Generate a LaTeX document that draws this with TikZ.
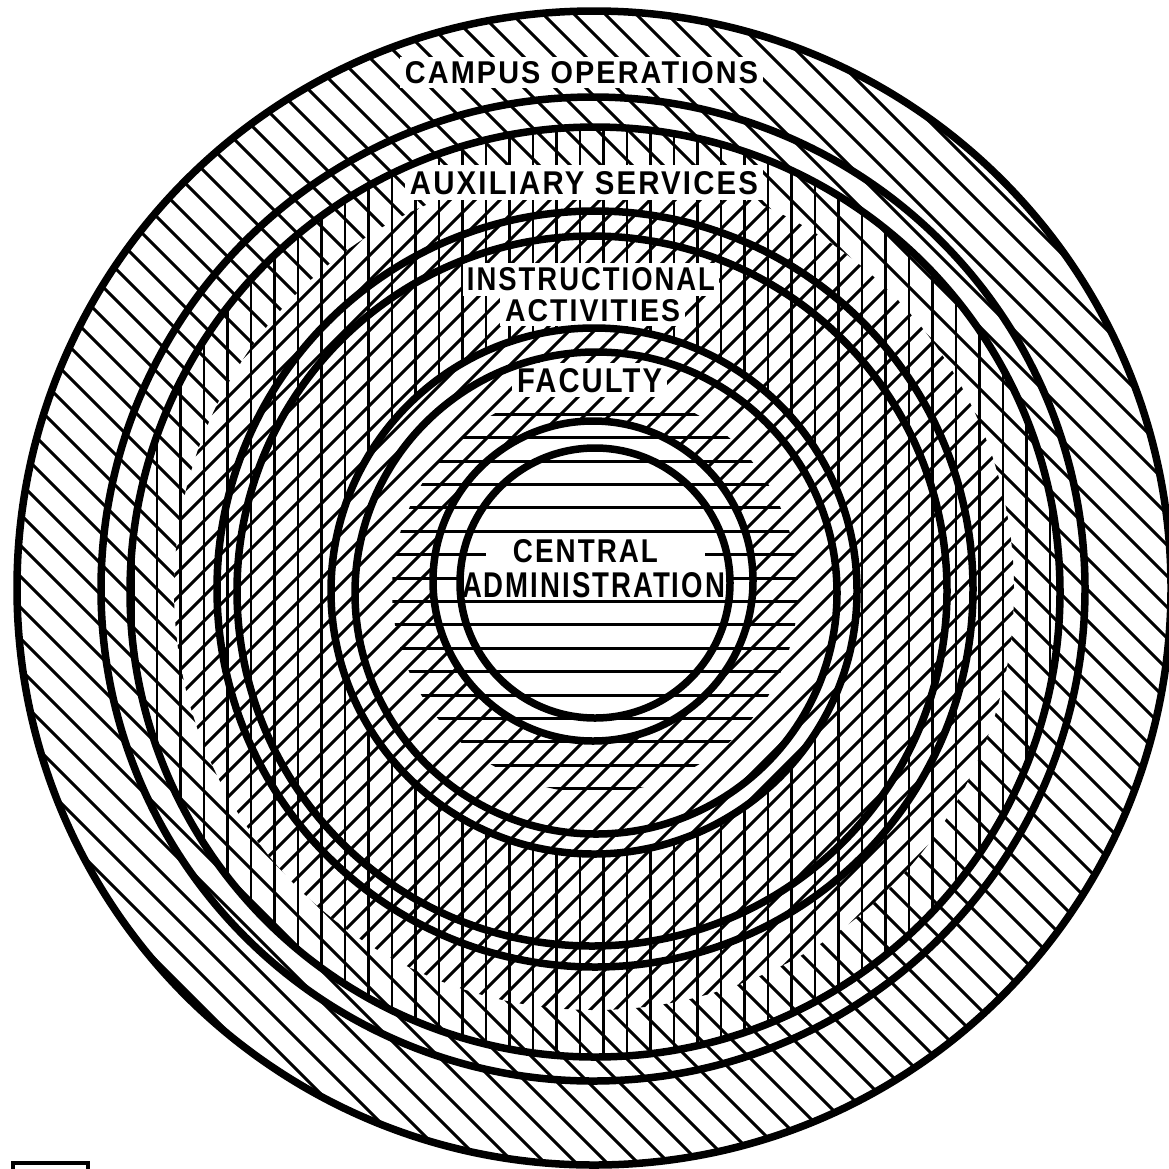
\documentclass[tikz,border=0pt]{standalone}
\usepackage{fontspec}
\setmainfont{Liberation Sans}[FakeStretch=0.82, LetterSpace=6]
\usepackage{graphicx}
\begin{document}
\begin{tikzpicture}[x=1pt,y=-1pt,
  hatch/.style={line width=3pt, line cap=butt},
  vhatch/.style={line width=2.4pt, line cap=butt},
  ring/.style={line width=7.5pt},
  lbl/.style={inner sep=0pt, font=\bfseries},
  blank/.style={fill=white, draw=none}]
\useasboundingbox[fill=white] (0,0) rectangle (1169,1168);

% backslash hatching: campus operations ring and outer part of auxiliary ring
\begin{scope}[even odd rule]
  \clip (594,588) circle[radius=577pt] (594,590) circle[radius=420pt];
  \foreach \c in {-1300,-1269,...,1300}
    \draw[hatch] (\c-50,-50) -- (\c+1250,1250);
\end{scope}

% slash hatching: inner auxiliary, instructional, faculty rings
\begin{scope}[even odd rule]
  \clip (594,590) circle[radius=420pt] (593,581) circle[radius=160pt];
  \foreach \c in {0,25,...,2400}
    \draw[hatch] (\c+50,-50) -- (\c-1250,1250);
\end{scope}

% vertical hatching: auxiliary services and instructional activities
\begin{scope}[even odd rule]
  \clip (595,592) circle[radius=465pt] (594,591) circle[radius=263pt];
  \foreach \x in {110,133.5,...,1090}
    \draw[vhatch] (\x,100) -- (\x,1100);
\end{scope}

% horizontal hatching: central administration
\begin{scope}
  \clip (595,590) circle[radius=203pt];
  \foreach \yy in {414.2,437.6,...,790}
    \draw[hatch] (380,\yy) -- (810,\yy);
\end{scope}

% white grounds behind the labels
\fill[blank] (400,57) rectangle (763,88);
\fill[blank] (405,165) rectangle (763,200);
\fill[blank] (463,263) rectangle (719,296);
\fill[blank] (500,294) rectangle (685,326);
\fill[blank] (512,363) rectangle (667,397);
\fill[blank] (486,536) rectangle (705,566);
\fill[blank] (459,569) rectangle (729,600);

% circles
\draw[ring] (594,588) circle[radius=577pt];
\draw[ring] (593,589) circle[radius=492pt];
\draw[ring] (595,592) circle[radius=465pt];
\draw[ring] (595,589) circle[radius=378pt];
\draw[ring] (592,591) circle[radius=355pt];
\draw[ring] (594,591) circle[radius=263pt];
\draw[ring] (596,593) circle[radius=241pt];
\draw[ring] (593,581) circle[radius=160pt];
\draw[ring] (595,583) circle[radius=135pt];

% labels
\node[lbl] (campus) at (581.5,72.5) {\resizebox{353pt}{22pt}{CAMPUS OPERATIONS}};
\node[lbl] (aux) at (584,183.5) {\resizebox{348pt}{23pt}{AUXILIARY SERVICES}};
\node[lbl] (instr) at (591,279.5) {\resizebox{248pt}{23pt}{INSTRUCTIONAL}};
\node[lbl] (activ) at (592.5,310.5) {\resizebox{175pt}{22pt}{ACTIVITIES}};
\node[lbl] (fac) at (589.5,380.5) {\resizebox{145pt}{24pt}{FACULTY}};
\node[lbl] (central) at (585.5,551.5) {\resizebox{145pt}{23pt}{CENTRAL}};
\node[lbl] (admin) at (593.5,585) {\resizebox{263pt}{25pt}{ADMINISTRATION}};

% small box at the lower left corner
\draw[line width=4pt] (13,1163) rectangle (88,1185);
\end{tikzpicture}
\end{document}
